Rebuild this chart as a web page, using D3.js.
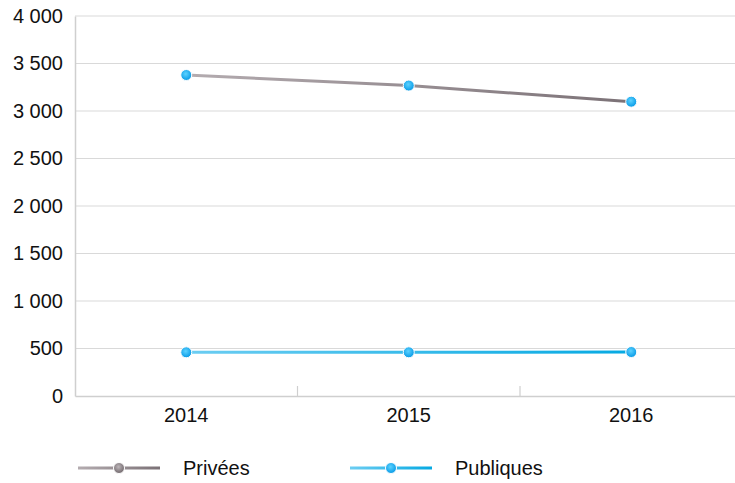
<!DOCTYPE html>
<html><head><meta charset="utf-8">
<script src="https://cdn.jsdelivr.net/npm/d3@7"></script>
<style>body{margin:0;background:#fff;}svg{display:block;font-family:"Liberation Sans",Arial,sans-serif;}</style>
</head><body>
<svg id="chart" width="735" height="483"></svg>
<script>
const categories = ["2014","2015","2016"];
const privees = [3379, 3268, 3098];
const publiques = [460, 460, 463];
const seriesNames = ["Privées","Publiques"];
const yTicks = [0,500,1000,1500,2000,2500,3000,3500,4000];

const svg = d3.select("#chart");
const defs = svg.append("defs");
const margin = {left:75, top:16, bottom:87};
const plotW = 667.5, plotH = 380;

const x = d3.scaleBand().domain(categories).range([margin.left, margin.left+plotW]);
const y = d3.scaleLinear().domain([0,4000]).range([margin.top+plotH, margin.top]);
const fmt = v => d3.format(",")(v).replace(/,/g, " ");
const cx = d => x(d)+x.bandwidth()/2;

function lin(id, c1, c2, x1, x2){
  const g = defs.append("linearGradient").attr("id",id).attr("gradientUnits","userSpaceOnUse")
    .attr("x1",x1).attr("x2",x2).attr("y1",0).attr("y2",0);
  g.append("stop").attr("offset","0%").attr("stop-color",c1);
  g.append("stop").attr("offset","100%").attr("stop-color",c2);
}
function rad(id, c1, c2){
  const g = defs.append("radialGradient").attr("id",id).attr("cx","45%").attr("cy","40%").attr("r","60%");
  g.append("stop").attr("offset","0%").attr("stop-color",c1);
  g.append("stop").attr("offset","100%").attr("stop-color",c2);
}
lin("gPriv","#b4acb0","#7b7176", cx(categories[0]), cx(categories[2]));
lin("gPub","#6ccdf2","#05a9e2", cx(categories[0]), cx(categories[2]));
rad("mBlue","#5cd2ff","#0599e6");
rad("mGray","#bdb6b9","#6f666b");

// grid
svg.append("g").selectAll("line").data(yTicks.filter(d=>d>0)).join("line")
  .attr("x1",margin.left).attr("x2",735).attr("y1",d=>y(d)).attr("y2",d=>y(d))
  .attr("stroke","#d9d9d9").attr("stroke-width",1.2);

// y axis
const yAxis = svg.append("g").attr("transform",`translate(${margin.left},0)`)
  .call(d3.axisLeft(y).tickValues(yTicks).tickFormat(fmt).tickSize(0).tickPadding(12));
yAxis.select(".domain").attr("stroke","#cfcfcf").attr("stroke-width",1.5);
yAxis.selectAll("text").attr("font-size",20).attr("fill","#111").attr("font-family","Liberation Sans, Arial, sans-serif");

// x axis
const xAxis = svg.append("g").attr("transform",`translate(0,${y(0)})`)
  .call(d3.axisBottom(x).tickSize(0).tickPadding(12));
xAxis.select(".domain").attr("stroke","#cfcfcf").attr("stroke-width",1.5);
xAxis.selectAll("text").attr("font-size",20).attr("fill","#111").attr("font-family","Liberation Sans, Arial, sans-serif");
svg.append("g").selectAll("line").data(categories.slice(1)).join("line")
  .attr("x1",d=>x(d)).attr("x2",d=>x(d)).attr("y1",y(0)-10).attr("y2",y(0))
  .attr("stroke","#cfcfcf").attr("stroke-width",1.2);

const line = d3.line().x((d,i)=>cx(categories[i])).y(d=>y(d));

const series = [
  {name:seriesNames[0], values:privees, stroke:"url(#gPriv)"},
  {name:seriesNames[1], values:publiques, stroke:"url(#gPub)"}
];

series.forEach(s=>{
  svg.append("path").datum(s.values).attr("d",line).attr("fill","none")
    .attr("stroke",s.stroke).attr("stroke-width",3);
});
series.forEach(s=>{
  svg.append("g").selectAll("circle").data(s.values).join("circle")
    .attr("cx",(d,i)=>cx(categories[i])).attr("cy",d=>y(d)).attr("r",5.5)
    .attr("fill","url(#mBlue)").attr("stroke","#fff").attr("stroke-width",1);
});

// legend
const legY = 468;
const leg = [
  {x1:78, x2:160, mx:119, tx:183, c1:"#b4acb0", c2:"#7b7176", m:"url(#mGray)"},
  {x1:350, x2:432, mx:391, tx:455, c1:"#6ccdf2", c2:"#05a9e2", m:"url(#mBlue)"}
];
leg.forEach((l,i)=>{
  lin("lg"+i, l.c1, l.c2, l.x1, l.x2);
  svg.append("line").attr("x1",l.x1).attr("x2",l.x2).attr("y1",legY).attr("y2",legY)
    .attr("stroke",`url(#lg${i})`).attr("stroke-width",3);
  svg.append("circle").attr("cx",l.mx).attr("cy",legY).attr("r",5.5)
    .attr("fill",l.m).attr("stroke","#fff").attr("stroke-width",1);
  svg.append("text").attr("x",l.tx).attr("y",legY).attr("dy","0.35em")
    .attr("font-size",20).attr("fill","#111").text(seriesNames[i]);
});
</script>
</body></html>
